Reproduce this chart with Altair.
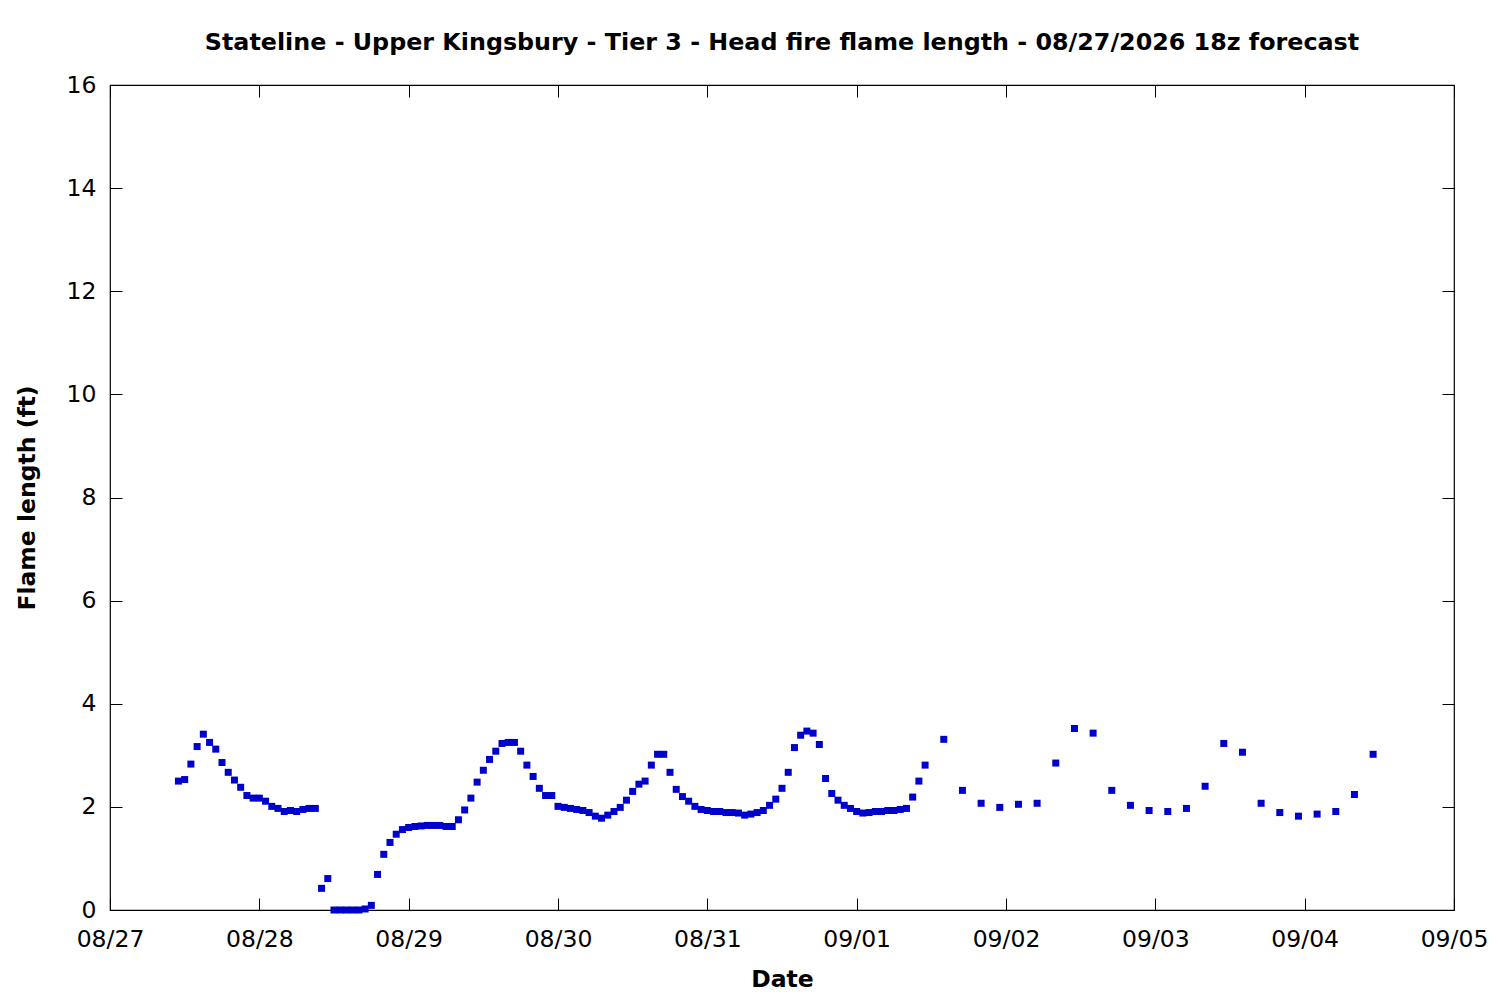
import altair as alt
import pandas as pd

FONT = "DejaVu Sans"

day_labels = ["08/27", "08/28", "08/29", "08/30", "08/31",
              "09/01", "09/02", "09/03", "09/04", "09/05"]
day_ticks = [0, 24, 48, 72, 96, 120, 144, 168, 192, 216]
y_ticks = [0, 2, 4, 6, 8, 10, 12, 14, 16]

# hours after 08/27 00:00 (local), hourly from 11 to 131
hourly_hours = list(range(11, 132))
hourly_values = [
    2.50, 2.53, 2.83, 3.17, 3.41, 3.25, 3.12, 2.86, 2.67, 2.52,
    2.38, 2.22, 2.17, 2.17, 2.11, 2.01, 1.97, 1.91, 1.93, 1.91,
    1.95, 1.97, 1.97, 0.42, 0.61, 0.00, 0.00, 0.00, 0.00, 0.00,
    0.02, 0.09, 0.69, 1.08, 1.31, 1.47, 1.56, 1.60, 1.62, 1.63,
    1.64, 1.64, 1.64, 1.62, 1.62, 1.75, 1.94, 2.17, 2.48, 2.71,
    2.92, 3.08, 3.23, 3.25, 3.25, 3.08, 2.81, 2.59, 2.36, 2.22,
    2.22, 2.01, 1.99, 1.97, 1.95, 1.93, 1.89, 1.82, 1.78, 1.84,
    1.91, 1.99, 2.13, 2.30, 2.44, 2.50, 2.81, 3.02, 3.02, 2.67,
    2.34, 2.20, 2.11, 2.01, 1.95, 1.93, 1.91, 1.91, 1.89, 1.89,
    1.88, 1.84, 1.86, 1.89, 1.93, 2.03, 2.15, 2.36, 2.67, 3.15,
    3.39, 3.47, 3.43, 3.21, 2.55, 2.26, 2.13, 2.03, 1.97, 1.91,
    1.88, 1.89, 1.91, 1.91, 1.93, 1.93, 1.95, 1.97, 2.19, 2.50,
    2.81,
]
# 3-hourly from 134 to 203
three_hourly_hours = list(range(134, 204, 3))
three_hourly_values = [
    3.31, 2.32, 2.07, 1.99, 2.05, 2.07, 2.85, 3.52, 3.43, 2.32,
    2.03, 1.93, 1.91, 1.97, 2.40, 3.23, 3.06, 2.07, 1.89, 1.82,
    1.86, 1.91, 2.24, 3.02,
]

df = pd.DataFrame({
    "hour": hourly_hours + three_hourly_hours,
    "flame": hourly_values + three_hourly_values,
})

label_expr = "[" + ",".join(f"'{d}'" for d in day_labels) + "][round(datum.value/24)]"

xscale = alt.Scale(domain=[0, 216], nice=False, zero=False)
yscale = alt.Scale(domain=[0, 16], nice=False)

common = dict(grid=False, domain=False, offset=-12, tickSize=12,
              tickColor="black", tickWidth=1,
              labelFont=FONT, labelFontSize=23.5, labelColor="black",
              titleFont=FONT, titleFontSize=23.5, titleFontWeight="bold",
              titleColor="black")

points = alt.Chart(df).mark_square(size=49, color="#0000CC", opacity=1).encode(
    x=alt.X("hour:Q", scale=xscale, title="Date",
            axis=alt.Axis(orient="bottom", values=day_ticks, labelExpr=label_expr,
                          labelPadding=17, titlePadding=17, labelFlush=False,
                          labelOverlap=False, **common)),
    y=alt.Y("flame:Q", scale=yscale, title="Flame length (ft)",
            axis=alt.Axis(orient="left", values=y_ticks, labelPadding=14,
                          titlePadding=27, labelFlush=False, **common)),
)

mirror = alt.Chart(df).mark_square(size=1, opacity=0).encode(
    x=alt.X("hour:Q", scale=xscale, title=None,
            axis=alt.Axis(orient="top", values=day_ticks, labels=False, **common)),
    y=alt.Y("flame:Q", scale=yscale, title=None,
            axis=alt.Axis(orient="right", values=y_ticks, labels=False, **common)),
)

chart = alt.layer(points, mirror).resolve_axis(
    x="independent", y="independent"
).properties(
    width=1344,
    height=825,
    autosize="none",
    padding={"left": 102, "top": 77, "right": 38, "bottom": 82},
    title=alt.TitleParams(
        "Stateline - Upper Kingsbury - Tier 3 - Head fire flame length - 08/27/2026 18z forecast",
        font=FONT, fontSize=23.8, fontWeight="bold", color="black",
        anchor="middle", baseline="alphabetic", offset=-1,
    ),
).configure_view(stroke="black", strokeWidth=1.2)

chart.save("out.html", embed_options={"renderer": "svg", "actions": False})
